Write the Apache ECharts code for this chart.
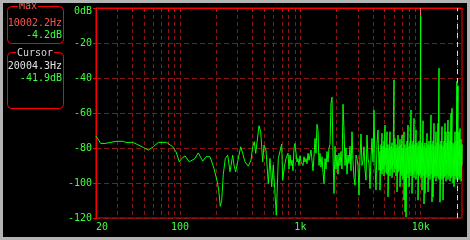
<!DOCTYPE html>
<html><head><meta charset="utf-8">
<script src="https://cdn.jsdelivr.net/npm/echarts@6/dist/echarts.min.js"></script>
<style>html,body{margin:0;padding:0;background:#000;overflow:hidden}#c{width:470px;height:240px}</style>
</head><body><div id="c"></div>
<script>
// ---- data ----
const freqLow = [20,21.9,23.8,24.5,29.3,33.7,35.5,40.4,43.6,49.5,
  54.4,59.9,65.9,77.4,86.8,92.5,98.5,103.1,109.9,119.3,
  133,141.7,154.2,164.2,177.3,191.4,203.9,209.4,215.9,221.8,
  228.7,237.6,248.8,260,273.7,280.6,289.9,298.9,308.8,319,
  331.5,346.4,369,388.6,401.4,413.9,425.1,438.4,452.8,467.8,
  486.1,498.3,517.8,541.1,559,577.5,595.4,611.6,630.6,655.2,
  676.9,699.3,712.8,735,759.2];
const dbLow = [-73.2,-77.4,-77.4,-76.8,-76.2,-76.2,-76.8,-76.8,-77.8,-79.7,
  -81.2,-79.3,-76.8,-76.8,-79.3,-82.2,-87.9,-86,-84.5,-87.9,
  -86,-82.8,-87.5,-85,-85,-91.7,-99.4,-104.1,-113.3,-109.9,
  -95,-86,-84.1,-93.6,-84.1,-89.8,-93.6,-88.8,-84.1,-79.3,
  -83.1,-87.9,-90.4,-86.9,-79.3,-76.4,-83.1,-75.5,-67.3,-70.7,
  -87.9,-78.3,-81.2,-100.3,-86,-102.2,-89.8,-103.2,-118.4,-86,
  -85,-77.8,-98.5,-90.9,-86];
const freqMid = [789,804,820,836,852,868,885,902,920,937,
  955,974,993,1012,1031,1051,1072,1092,1114,1135,
  1157,1179,1202,1225,1249,1273,1298,1323,1348,1374,
  1401,1428,1456,1484,1512,1542,1572,1602,1633,1664,
  1697,1729,1763,1797,1832,1867,1903,1940,1977,2015,
  2054,2094,2135,2176,2218,2261,2304,2349,2394,2441,
  2488,2536,2585,2635,2686,2738,2791,2844,2899,2955,
  3013,3071,3130,3191,3252,3315,3379,3444,3511,3579,
  3648,3719,3790,3864,3938,4014,4092,4171,4252,4334,
  4418,4503];
const dbMid = [-83,-92,-84,-90,-87,-93,-80,-77.4,-78.5,-88,
  -86,-90,-84.5,-88,-87,-90,-85,-88,-86,-89,
  -83,-87,-84,-81.2,-87,-93,-85,-74.5,-83,-66.5,
  -70,-90,-83,-91,-85,-94,-100.3,-86,-92,-82,
  -88,-80,-78,-54.5,-51,-84,-106,-79,-92,-84,
  -95,-83,-90,-82,-92,-55,-69.7,-90,-80,-95,
  -84,-89,-79,-93,-70.7,-88,-97,-101.3,-84,-86,
  -90,-107,-85,-72,-90,-86.9,-79.3,-92,-98.4,-72.6,
  -86,-88.8,-103.2,-85,-74.5,-88,-58.3,-90,-104,-77.4,
  -69.7,-92.7];
const freqDense = [4590,4679,4769,4861,4955,5051,5149,5248,5349,5453,
  5558,5666,5775,5887,6000,6116,6235,6355,6478,6603,
  6731,6861,6993,7129,7266,7407,7550,7696,7844,7996,
  8151,8308,8469,8632,8799,8969,9143,9319,9499,9683,
  9870,10002.2,10061,10255,10453,10655,10861,11071,11285,11503,
  11726,11952,12183,12419,12659,12903,13153,13407,13666,13930,
  14199,14473,14753,15038,15329,15625,15927,16235,16549,16868,
  17194,17527,17865,18210,18562,18921,19287,19659,20004.3,20039,
  20427,20821,21224,21634,22050];
const dbDenseMax = [-82,-78,-71.6,-79,-76,-66.9,-80,-70.7,-78,-80,
  -70.7,-79,-77,-80,-41.1,-74.5,-78,-80,-72.6,-79,
  -75,-78,-72.6,-80,-70.7,-78,-80,-76,-66.9,-79,
  -77,-58.3,-78,-76,-63,-78,-69.7,-77,-79,-76,
  -78,-4.2,-80,-77,-64.4,-79,-77,-80,-71.6,-78,
  -76,-79,-61.1,-78,-76,-65.9,-79,-70.7,-77,-65.9,
  -34.4,-78,-76,-67.8,-79,-76,-65.9,-70.7,-77,-64,
  -70.7,-76,-60.2,-57.3,-77,-78,-70.7,-76,-41.9,-78,
  -44.5,-70.7,-68.8,-75,-78];
const dbDenseMin = [-104.1,-93,-95,-92,-96,-90,-94,-95,-107.9,-93,
  -96,-92,-97,-90,-94,-92,-96,-105.1,-94,-93,
  -102.2,-95,-96,-98,-109.8,-116.5,-119.4,-95,-97,-102.2,
  -94,-96,-106,-95,-97,-93,-98,-95,-109.8,-96,
  -95,-95,-97,-104.1,-96,-112,-106,-95,-97,-105.1,
  -96,-98,-95,-110.8,-108,-97,-96,-99,-96,-97,
  -98,-111,-96,-98,-109.8,-97,-96,-99,-95,-98,
  -96,-99,-97,-96,-100,-102.2,-96,-98,-97,-97,
  -96,-98,-97,-99,-90];
const xTickValues = [30,40,50,60,70,80,90,100,200,300,400,500,600,700,800,900,1000,2000,3000,4000,5000,6000,7000,8000,9000,10000,20000];
const xLabelValues = [20,100,1000,10000];
const xLabelTexts = ['20','100','1k','10k'];
const maxFreq = 10002.2, maxDb = -4.2;
const cursorFreq = 20004.3, cursorDb = -41.9;

// ---- build ----
const lineData = [];
freqLow.forEach((f,i)=>lineData.push([f, dbLow[i]]));
freqMid.forEach((f,i)=>lineData.push([f, dbMid[i]]));
freqDense.forEach((f,i)=>{ lineData.push([f, dbDenseMax[i]]); lineData.push([f, dbDenseMin[i]]); });

const RED='#ff0000', GRIDC='#8c1616', GTXT='#40ff40', FONT='"DejaVu Sans Mono", monospace';
const chart = echarts.init(document.getElementById('c'), null, {renderer:'canvas'});
chart.setOption({
  backgroundColor:'#000',
  animation:false,
  grid:{left:96, top:8, width:366, height:210, show:true, borderColor:RED, borderWidth:1, backgroundColor:'transparent', containLabel:false, outerBoundsMode:'none'},
  xAxis:{type:'log', logBase:10, min:20, max:22050,
    axisLine:{show:true, lineStyle:{color:RED, width:1}},
    axisTick:{show:true, inside:false, length:3, customValues:xTickValues, lineStyle:{color:RED}},
    minorTick:{show:false}, minorSplitLine:{show:false},
    splitLine:{show:true, lineStyle:{color:GRIDC, type:[4,3], width:1}},
    axisLabel:{show:true, customValues:xLabelValues, hideOverlap:false, margin:4, alignMinLabel:'left',
      color:GTXT, fontFamily:FONT, fontSize:10,
      formatter:v=>{ const i = xLabelValues.indexOf(Math.round(v)); return i>=0 ? xLabelTexts[i] : ''; }}
  },
  yAxis:{type:'value', min:-120, max:0, interval:20,
    axisLine:{show:true, lineStyle:{color:RED, width:1}},
    axisTick:{show:true, inside:false, length:3, lineStyle:{color:RED}},
    splitLine:{show:true, lineStyle:{color:GRIDC, type:[5,3], width:1}},
    axisLabel:{margin:4, color:GTXT, fontFamily:FONT, fontSize:10,
      formatter:v=> v===0 ? '{t|0dB}' : String(v),
      rich:{t:{color:GTXT, fontFamily:FONT, fontSize:10, padding:[6,0,0,0]}}}
  },
  series:[
    {type:'line', data:[], z:1, silent:true,
      markLine:{silent:true, symbol:'none', z:1, animation:false, label:{show:false},
        lineStyle:{color:'#d8d8d8', type:[5,4], width:1},
        data:[{xAxis:cursorFreq}]}},
    {type:'line', data:lineData, z:3, showSymbol:false, symbol:'none', clip:true,
      lineStyle:{color:'#00ff00', width:1}, emphasis:{disabled:true},
      markLine:{silent:true, symbol:'none', z:6, animation:false, label:{show:false},
        lineStyle:{color:'#ff6060', type:'solid', width:1},
        data:[[{coord:[maxFreq,0]},{coord:[maxFreq,maxDb]}]]}}
  ],
  graphic:[
    {type:'rect', z:50, shape:{x:7.5,y:6.5,width:56,height:37,r:4}, style:{fill:'none', stroke:RED, lineWidth:1}},
    {type:'text', z:51, x:18, y:6, style:{text:'Max', fill:'#ff5a5a', font:'10px '+FONT, verticalAlign:'middle', align:'left', backgroundColor:'#000', padding:[0,1]}},
    {type:'text', z:51, x:62, y:23, style:{text:maxFreq.toFixed(1)+'Hz', fill:'#ff5050', font:'10px '+FONT, verticalAlign:'middle', align:'right'}},
    {type:'text', z:51, x:62, y:35, style:{text:maxDb.toFixed(1)+'dB', fill:GTXT, font:'10px '+FONT, verticalAlign:'middle', align:'right'}},
    {type:'rect', z:50, shape:{x:7.5,y:52.5,width:56,height:56,r:4}, style:{fill:'none', stroke:RED, lineWidth:1}},
    {type:'text', z:51, x:16, y:53, style:{text:'Cursor', fill:'#d8d8d8', font:'10px '+FONT, verticalAlign:'middle', align:'left', backgroundColor:'#000', padding:[0,1]}},
    {type:'text', z:51, x:62, y:66, style:{text:cursorFreq.toFixed(1)+'Hz', fill:'#e0e0e0', font:'10px '+FONT, verticalAlign:'middle', align:'right'}},
    {type:'text', z:51, x:62, y:78.5, style:{text:cursorDb.toFixed(1)+'dB', fill:GTXT, font:'10px '+FONT, verticalAlign:'middle', align:'right'}},
    {type:'rect', z:100, shape:{x:1.5,y:1.5,width:467,height:237}, style:{fill:'none', stroke:'#b4b4b4', lineWidth:3}}
  ]
});
</script></body></html>
